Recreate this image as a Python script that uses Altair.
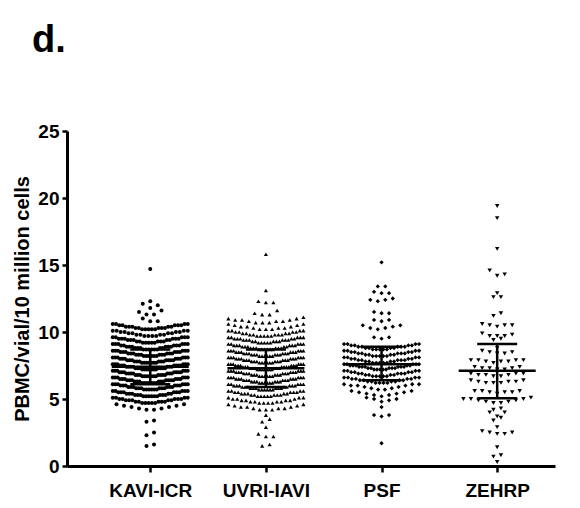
import altair as alt
import pandas as pd

groups = ["KAVI-ICR", "UVRI-IAVI", "PSF", "ZEHRP"]
shapes = ["circle", "triangle-up", "diamond", "triangle-down"]
sizes = [16, 20, 22, 22]

kavi_icr = [
    14.7, 12.3, 12.1, 12.0, 11.8, 11.6, 11.5, 11.3, 11.3, 11.0, 10.8, 10.8,
    10.2, 10.2, 10.2, 10.2, 10.2, 10.3, 10.3, 10.3, 10.3, 10.3, 10.4, 10.4, 10.4, 10.4, 10.4, 10.5, 10.5, 10.5, 10.5, 10.5, 10.6, 10.6, 10.6, 10.6,
    9.7, 9.7, 9.7, 9.7, 9.8, 9.8, 9.8, 9.8, 9.9, 9.9, 9.9, 9.9, 10.0, 10.0, 10.0, 10.0, 10.1, 10.1, 10.1, 10.1,
    9.2, 9.2, 9.2, 9.2, 9.2, 9.3, 9.3, 9.3, 9.3, 9.3, 9.4, 9.4, 9.4, 9.4, 9.4, 9.5, 9.5, 9.5, 9.5, 9.5, 9.5, 9.6, 9.6, 9.6, 9.6, 9.6,
    8.7, 8.7, 8.7, 8.7, 8.7, 8.7, 8.8, 8.8, 8.8, 8.8, 8.8, 8.9, 8.9, 8.9, 8.9, 8.9, 8.9, 9.0, 9.0, 9.0, 9.0, 9.0, 9.1, 9.1, 9.1, 9.1, 9.1, 9.1,
    8.2, 8.2, 8.2, 8.2, 8.2, 8.2, 8.3, 8.3, 8.3, 8.3, 8.3, 8.3, 8.4, 8.4, 8.4, 8.4, 8.4, 8.4, 8.5, 8.5, 8.5, 8.5, 8.5, 8.5, 8.6, 8.6, 8.6, 8.6, 8.6, 8.6,
    7.7, 7.7, 7.7, 7.7, 7.7, 7.7, 7.7, 7.8, 7.8, 7.8, 7.8, 7.8, 7.8, 7.9, 7.9, 7.9, 7.9, 7.9, 7.9, 7.9, 8.0, 8.0, 8.0, 8.0, 8.0, 8.0, 8.1, 8.1, 8.1, 8.1, 8.1, 8.1,
    7.2, 7.2, 7.2, 7.2, 7.2, 7.2, 7.2, 7.3, 7.3, 7.3, 7.3, 7.3, 7.3, 7.3, 7.4, 7.4, 7.4, 7.4, 7.4, 7.4, 7.4, 7.5, 7.5, 7.5, 7.5, 7.5, 7.5, 7.5, 7.6, 7.6, 7.6, 7.6, 7.6, 7.6,
    6.7, 6.7, 6.7, 6.7, 6.7, 6.7, 6.7, 6.8, 6.8, 6.8, 6.8, 6.8, 6.8, 6.8, 6.9, 6.9, 6.9, 6.9, 6.9, 6.9, 6.9, 7.0, 7.0, 7.0, 7.0, 7.0, 7.0, 7.0, 7.1, 7.1, 7.1, 7.1, 7.1, 7.1,
    6.2, 6.2, 6.2, 6.2, 6.2, 6.2, 6.2, 6.3, 6.3, 6.3, 6.3, 6.3, 6.3, 6.4, 6.4, 6.4, 6.4, 6.4, 6.4, 6.4, 6.5, 6.5, 6.5, 6.5, 6.5, 6.5, 6.6, 6.6, 6.6, 6.6, 6.6, 6.6,
    5.7, 5.7, 5.7, 5.7, 5.7, 5.7, 5.8, 5.8, 5.8, 5.8, 5.8, 5.8, 5.9, 5.9, 5.9, 5.9, 5.9, 5.9, 6.0, 6.0, 6.0, 6.0, 6.0, 6.0, 6.1, 6.1, 6.1, 6.1, 6.1, 6.1,
    5.2, 5.2, 5.2, 5.2, 5.2, 5.2, 5.3, 5.3, 5.3, 5.3, 5.3, 5.3, 5.4, 5.4, 5.4, 5.4, 5.4, 5.5, 5.5, 5.5, 5.5, 5.5, 5.5, 5.6, 5.6, 5.6, 5.6, 5.6,
    4.7, 4.7, 4.7, 4.7, 4.7, 4.8, 4.8, 4.8, 4.8, 4.8, 4.9, 4.9, 4.9, 4.9, 4.9, 5.0, 5.0, 5.0, 5.0, 5.0, 5.1, 5.1, 5.1, 5.1,
    4.2, 4.2, 4.3, 4.3, 4.4, 4.4, 4.5, 4.5, 4.6, 4.6,
    3.3, 3.4, 2.3, 2.5, 1.5, 1.6,
]

uvri_iavi = [
    15.8, 13.1, 12.2, 12.2, 12.3, 11.3, 11.3, 11.4, 11.6,
    10.7, 10.7, 10.7, 10.8, 10.8, 10.8, 10.9, 10.9, 10.9, 11.0, 11.0, 11.1,
    10.2, 10.2, 10.2, 10.3, 10.3, 10.3, 10.4, 10.4, 10.4, 10.5, 10.5, 10.6, 10.6,
    9.7, 9.7, 9.7, 9.7, 9.7, 9.8, 9.8, 9.8, 9.8, 9.8, 9.9, 9.9, 9.9, 9.9, 10.0, 10.0, 10.0, 10.0, 10.1, 10.1, 10.1, 10.1,
    9.2, 9.2, 9.2, 9.2, 9.2, 9.3, 9.3, 9.3, 9.3, 9.3, 9.4, 9.4, 9.4, 9.4, 9.4, 9.4, 9.5, 9.5, 9.5, 9.5, 9.5, 9.6, 9.6, 9.6, 9.6, 9.6,
    8.7, 8.7, 8.7, 8.7, 8.7, 8.7, 8.8, 8.8, 8.8, 8.8, 8.8, 8.8, 8.9, 8.9, 8.9, 8.9, 8.9, 9.0, 9.0, 9.0, 9.0, 9.0, 9.0, 9.1, 9.1, 9.1, 9.1, 9.1,
    8.2, 8.2, 8.2, 8.2, 8.2, 8.2, 8.3, 8.3, 8.3, 8.3, 8.3, 8.3, 8.4, 8.4, 8.4, 8.4, 8.4, 8.4, 8.5, 8.5, 8.5, 8.5, 8.5, 8.5, 8.6, 8.6, 8.6, 8.6, 8.6, 8.6,
    7.7, 7.7, 7.7, 7.7, 7.7, 7.7, 7.8, 7.8, 7.8, 7.8, 7.8, 7.8, 7.9, 7.9, 7.9, 7.9, 7.9, 7.9, 8.0, 8.0, 8.0, 8.0, 8.0, 8.0, 8.1, 8.1, 8.1, 8.1, 8.1, 8.1,
    7.2, 7.2, 7.2, 7.2, 7.2, 7.2, 7.2, 7.3, 7.3, 7.3, 7.3, 7.3, 7.3, 7.4, 7.4, 7.4, 7.4, 7.4, 7.4, 7.4, 7.5, 7.5, 7.5, 7.5, 7.5, 7.5, 7.6, 7.6, 7.6, 7.6, 7.6, 7.6,
    6.7, 6.7, 6.7, 6.7, 6.7, 6.7, 6.8, 6.8, 6.8, 6.8, 6.8, 6.8, 6.9, 6.9, 6.9, 6.9, 6.9, 6.9, 7.0, 7.0, 7.0, 7.0, 7.0, 7.0, 7.1, 7.1, 7.1, 7.1, 7.1, 7.1,
    6.2, 6.2, 6.2, 6.2, 6.2, 6.2, 6.3, 6.3, 6.3, 6.3, 6.3, 6.3, 6.4, 6.4, 6.4, 6.4, 6.4, 6.4, 6.5, 6.5, 6.5, 6.5, 6.5, 6.5, 6.6, 6.6, 6.6, 6.6, 6.6, 6.6,
    5.7, 5.7, 5.7, 5.7, 5.7, 5.7, 5.8, 5.8, 5.8, 5.8, 5.8, 5.8, 5.9, 5.9, 5.9, 5.9, 5.9, 6.0, 6.0, 6.0, 6.0, 6.0, 6.0, 6.1, 6.1, 6.1, 6.1, 6.1,
    5.2, 5.2, 5.2, 5.2, 5.2, 5.3, 5.3, 5.3, 5.3, 5.3, 5.4, 5.4, 5.4, 5.4, 5.4, 5.5, 5.5, 5.5, 5.5, 5.5, 5.6, 5.6, 5.6, 5.6,
    4.7, 4.7, 4.7, 4.7, 4.8, 4.8, 4.8, 4.8, 4.9, 4.9, 4.9, 4.9, 5.0, 5.0, 5.0, 5.1, 5.1, 5.1,
    4.2, 4.2, 4.2, 4.3, 4.3, 4.3, 4.4, 4.4, 4.4, 4.5, 4.5, 4.6, 4.6,
    3.8, 3.5, 3.3, 2.9, 2.2, 2.2, 2.4, 1.5, 1.6,
]

psf = [
    15.2, 13.4, 13.4, 12.9, 12.9, 13.0, 12.3, 12.4, 12.4, 12.5,
    11.4, 11.4, 11.5, 10.8, 10.9, 10.9,
    10.2, 10.3, 10.3, 10.4, 10.5, 10.5, 9.5, 9.6, 9.6,
    8.7, 8.7, 8.7, 8.7, 8.7, 8.8, 8.8, 8.8, 8.8, 8.9, 8.9, 8.9, 8.9, 8.9, 9.0, 9.0, 9.0, 9.0, 9.1, 9.1, 9.1, 9.1,
    8.2, 8.2, 8.2, 8.2, 8.2, 8.3, 8.3, 8.3, 8.3, 8.4, 8.4, 8.4, 8.4, 8.4, 8.5, 8.5, 8.5, 8.5, 8.6, 8.6, 8.6, 8.6,
    7.7, 7.7, 7.7, 7.7, 7.7, 7.8, 7.8, 7.8, 7.8, 7.9, 7.9, 7.9, 7.9, 7.9, 8.0, 8.0, 8.0, 8.0, 8.1, 8.1, 8.1, 8.1,
    7.2, 7.2, 7.2, 7.2, 7.2, 7.3, 7.3, 7.3, 7.3, 7.3, 7.4, 7.4, 7.4, 7.4, 7.4, 7.4, 7.5, 7.5, 7.5, 7.5, 7.5, 7.6, 7.6, 7.6, 7.6, 7.6,
    6.7, 6.7, 6.7, 6.7, 6.7, 6.8, 6.8, 6.8, 6.8, 6.9, 6.9, 6.9, 6.9, 6.9, 7.0, 7.0, 7.0, 7.0, 7.1, 7.1, 7.1, 7.1,
    6.2, 6.2, 6.2, 6.2, 6.3, 6.3, 6.3, 6.3, 6.4, 6.4, 6.4, 6.4, 6.5, 6.5, 6.5, 6.5, 6.6, 6.6, 6.6, 6.6,
    5.7, 5.7, 5.8, 5.8, 5.9, 5.9, 6.0, 6.0, 6.0, 6.1, 6.1, 6.1,
    5.2, 5.3, 5.3, 5.4, 5.4, 5.5, 5.5, 5.6, 5.6,
    4.8, 4.9, 5.0, 5.0, 5.1,
    4.4, 3.7, 3.8, 3.8, 1.7,
]

zehrp = [
    19.4, 18.5, 16.2, 14.6, 14.3, 14.2, 12.9, 12.6, 12.6, 11.4, 11.2,
    10.4, 10.5, 10.5, 10.5, 10.6,
    9.7, 9.7, 9.7, 9.8, 9.9, 9.4, 9.5,
    8.8, 8.4, 8.4, 8.5, 8.5, 8.6,
    7.7, 7.8, 7.8, 7.8, 7.9, 7.9, 7.9, 7.9,
    7.2, 7.2, 7.3, 7.3, 7.3, 7.4, 7.4,
    6.7, 6.7, 6.8, 6.8, 6.8, 6.9, 6.9, 6.9,
    6.2, 6.2, 6.2, 6.3, 6.3, 6.3, 6.4, 6.4,
    5.4, 5.5, 5.5, 5.5, 5.6, 5.6, 5.6,
    4.7, 4.7, 4.8, 4.8, 4.9, 4.9, 5.0, 5.0, 5.0, 5.1,
    4.2, 4.3, 4.0, 4.0, 3.7, 3.4, 3.6, 2.9,
    2.4, 2.4, 2.5, 2.5, 2.6, 1.4, 0.7, 0.8, 0.3,
]

# summary bars (mean with SD)
mean_vals = [7.4, 7.3, 7.6, 7.1]
sd_low = [6.1, 5.9, 6.4, 5.05]
sd_high = [8.7, 8.7, 8.9, 9.1]

y_title = "PBMC/vial/10 million cells"

# layout / style constants
XMIN, XMAX = -0.72, 3.50
W, H = 488, 335
PXU = W / (XMAX - XMIN)
ROW_W = 75.0
MAX_STEP = 7.5
MEAN_HALF = 38.5 / PXU
CAP_HALF = 20.0 / PXU

series = [kavi_icr, uvri_iavi, psf, zehrp]
pts = pd.DataFrame({
    "g": [g for g, vals in zip(groups, series) for _ in vals],
    "v": [v for vals in series for v in vals],
})
stats = pd.DataFrame({"g": groups, "m": mean_vals, "lo": sd_low, "hi": sd_high})

group_arr = "[" + ",".join("'" + g + "'" for g in groups) + "]"

xscale = alt.Scale(domain=[XMIN, XMAX], nice=False, zero=False)
yscale = alt.Scale(domain=[0, 25], nice=False)
xaxis = alt.Axis(values=[0, 1, 2, 3], labelExpr=group_arr + "[datum.value]", title="",
                 labelPadding=9, tickSize=6)
yaxis = alt.Axis(values=[0, 5, 10, 15, 20, 25], title=y_title, tickSize=5,
                 labelPadding=3, titlePadding=5)


def X(field):
    return alt.X(field, scale=xscale, axis=xaxis, title="")


def Y(field):
    return alt.Y(field, scale=yscale, axis=yaxis, title=y_title)


points = alt.Chart(pts).transform_calculate(
    gi="indexof(" + group_arr + ", datum.g)",
    row="floor((round(datum.v * 10) - 2) / 5)",
).transform_joinaggregate(
    n="count()", groupby=["g", "row"]
).transform_window(
    k="row_number()", groupby=["g", "row"], sort=[alt.SortField("v", order="ascending")]
).transform_calculate(
    slot="datum.k == 1 ? 0 : (datum.k % 2 == 0 ? datum.k / 2 : -(datum.k - 1) / 2)",
    step="min(%f, %f / max(datum.n - 1, 1)) / %f" % (MAX_STEP, ROW_W, PXU),
).transform_calculate(
    xp="datum.gi + (datum.slot - (datum.n % 2 == 0 ? 0.5 : 0)) * datum.step"
).mark_point(filled=True, opacity=1, strokeWidth=0, color="black").encode(
    x=X("xp:Q"),
    y=Y("v:Q"),
    shape=alt.Shape("g:N", scale=alt.Scale(domain=groups, range=shapes), legend=None),
    size=alt.Size("g:N", scale=alt.Scale(domain=groups, range=sizes), legend=None),
)

base = alt.Chart(stats).transform_calculate(
    gi="indexof(" + group_arr + ", datum.g)",
).transform_calculate(
    ml="datum.gi - %f" % MEAN_HALF,
    mr="datum.gi + %f" % MEAN_HALF,
    cl="datum.gi - %f" % CAP_HALF,
    cr="datum.gi + %f" % CAP_HALF,
)

rule_style = dict(color="black", strokeWidth=2.5)
mean_rule = base.mark_rule(**rule_style).encode(x=X("ml:Q"), x2="mr:Q", y=Y("m:Q"))
cap_hi = base.mark_rule(**rule_style).encode(x=X("cl:Q"), x2="cr:Q", y=Y("hi:Q"))
cap_lo = base.mark_rule(**rule_style).encode(x=X("cl:Q"), x2="cr:Q", y=Y("lo:Q"))
vline = base.mark_rule(**rule_style).encode(x=X("gi:Q"), y=Y("lo:Q"), y2="hi:Q")

label = alt.Chart(pd.DataFrame({"t": ["d."]})).mark_text(
    align="left", baseline="alphabetic", fontSize=38, fontWeight="bold",
    font="Liberation Sans", color="black"
).encode(x=alt.value(-35), y=alt.value(-79), text="t:N")

chart = alt.layer(points, mean_rule, cap_hi, cap_lo, vline, label).properties(
    width=W, height=H,
    autosize=alt.AutoSizeParams(type="none"),
    padding={"left": 67, "top": 131, "right": 25, "bottom": 42},
    background="white",
).configure_view(stroke=None).configure_axis(
    grid=False,
    domainColor="black", domainWidth=3,
    tickColor="black", tickWidth=2.5,
    labelFont="Liberation Sans", labelFontWeight="bold", labelFontSize=19, labelColor="black",
    titleFont="Liberation Sans", titleFontWeight="bold", titleFontSize=20, titleColor="black",
)

chart.save("out.html", embed_options={"renderer": "svg", "actions": False})
